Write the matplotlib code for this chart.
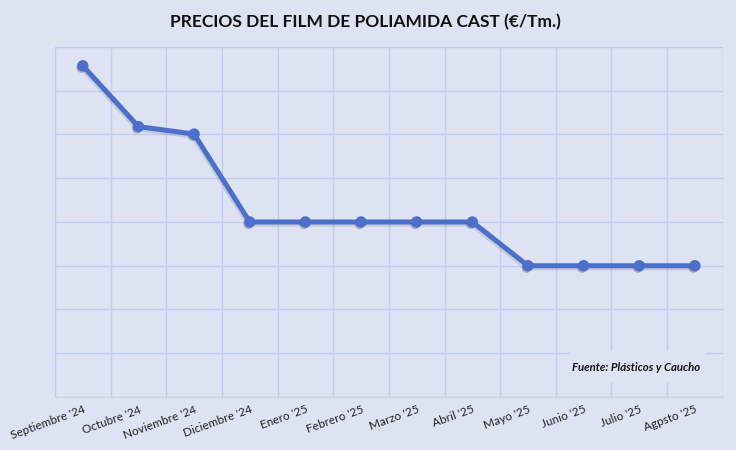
import matplotlib
matplotlib.use("Agg")
import matplotlib.pyplot as plt
import matplotlib.patheffects as pe
from matplotlib.patches import Rectangle

meses = ["Septiembre '24", "Octubre '24", "Noviembre '24", "Diciembre '24",
         "Enero '25", "Febrero '25", "Marzo '25", "Abril '25",
         "Mayo '25", "Junio '25", "Julio '25", "Agpsto '25"]
precios = [7.57, 6.18, 6.01, 4.0, 4.0, 4.0, 4.0, 4.0, 3.0, 3.0, 3.0, 3.0]

bg = "#dee3f3"
azul = "#4b6fca"
rejilla = "#c2cdee"

plt.rcParams['font.family'] = ['Lato', 'DejaVu Sans']

fig = plt.figure(figsize=(7.36, 4.5), dpi=100, facecolor=bg)
ax = fig.add_axes([0.0747, 0.1178, 0.9073, 0.7778])
ax.set_facecolor(bg)

x = list(range(len(meses)))
sombra = [pe.SimpleLineShadow(offset=(-0.8, -1.5), alpha=0.18, shadow_color='#555566'), pe.Normal()]
ax.plot(x, precios, color=azul, lw=3.6, zorder=3, path_effects=sombra)
ax.plot(x, precios, ls='none', marker='o', ms=7.2, markerfacecolor=azul,
        markeredgecolor=azul, zorder=4,
        path_effects=[pe.SimplePatchShadow(offset=(-1, -1.5), alpha=0.4, shadow_rgbFace='#555566'), pe.Normal()])

ax.set_xlim(-0.5, len(meses) - 0.5)
ax.set_ylim(0, 8)
ax.set_yticks(range(0, 9))
ax.set_xticks([i + 0.5 for i in range(-1, len(meses))], minor=False)
ax.grid(True, color=rejilla, lw=1)
ax.set_axisbelow(True)
ax.tick_params(length=0, labelleft=False, labelbottom=False)
ax.set_xticks(x, minor=True)
ax.set_xticklabels(meses, minor=True, rotation=20, ha='right', rotation_mode='anchor',
                   fontsize=8.5, color='#222222')
ax.tick_params(axis='x', which='minor', length=0, pad=5, labelbottom=True)
for s in ['top', 'right', 'left']:
    ax.spines[s].set_visible(False)
ax.spines['bottom'].set_color('#cfd3e0')

ax.add_patch(Rectangle((0.771, 0.04), 0.204, 0.09, transform=ax.transAxes,
                       facecolor=bg, edgecolor='none', zorder=2))
ax.text(0.871, 0.083, "Fuente: Plásticos y Caucho", transform=ax.transAxes,
        ha='center', va='center', fontsize=8.2, fontweight='bold', style='italic',
        color='#111111', zorder=4)

fig.text(0.497, 0.951, "PRECIOS DEL FILM DE POLIAMIDA CAST (€/Tm.)", ha='center',
         va='center', fontsize=12.5, fontweight='bold', color='#111111')

fig.savefig("out.png", dpi=100, facecolor=bg)
